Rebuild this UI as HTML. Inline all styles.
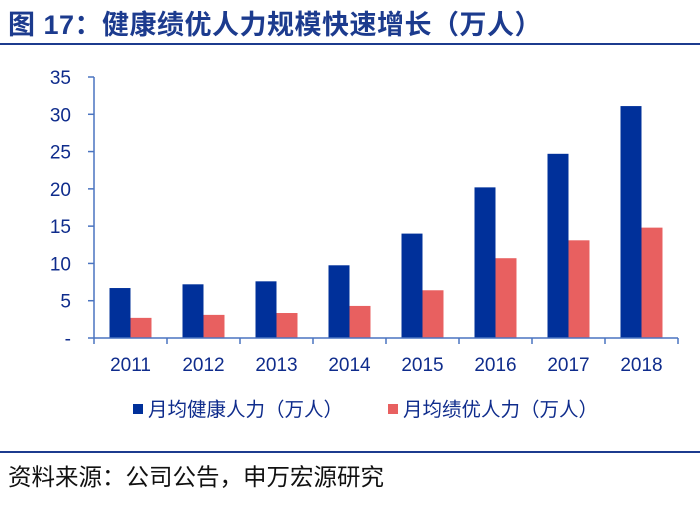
<!DOCTYPE html>
<html><head><meta charset="utf-8"><style>
body{margin:0;width:700px;height:514px;background:#fff;font-family:"Liberation Sans","Noto Sans CJK SC",sans-serif;overflow:hidden;position:relative}
.t{position:absolute;left:8px;top:10px;font-size:27px;line-height:31px;font-weight:bold;color:#1c3b8e;letter-spacing:0.5px;white-space:nowrap}
.l1{position:absolute;left:0;top:43px;width:700px;height:2px;background:#1c3b8e}
.l2{position:absolute;left:0;top:451px;width:700px;height:2px;background:#1c3b8e}
.src{position:absolute;left:8px;top:463px;font-size:23.5px;line-height:28px;color:#111;white-space:nowrap}
</style></head><body>
<div class="t">图 17：健康绩优人力规模快速增长（万人）</div>
<div class="l1"></div>
<svg id="c" width="700" height="440" style="position:absolute;left:0;top:0"></svg>
<div class="l2"></div>
<div class="src">资料来源：公司公告，申万宏源研究</div>
<script>
const categories=["2011","2012","2013","2014","2015","2016","2017","2018"];
const healthValues=[6.7,7.2,7.6,9.75,14.0,20.2,24.7,31.1];
const eliteValues=[2.7,3.1,3.35,4.3,6.4,10.7,13.1,14.8];
const yTicks=[0,5,10,15,20,25,30,35];
const yTickLabels=["-","5","10","15","20","25","30","35"];
const svg=document.getElementById('c');const NS='http://www.w3.org/2000/svg';
const x0=94,y0=338,yTop=77,cw=73,yMax=35;
const y=v=>y0-(v/yMax)*(y0-yTop);
const cx=i=>x0+cw*i+cw/2;
function mk(t,a){const e=document.createElementNS(NS,t);for(const k in a)e.setAttribute(k,a[k]);svg.appendChild(e);return e;}
const ax='#4a74c0',tc='#0f2c8c';
yTicks.forEach((v,i)=>{
 const tk=mk('line',{x1:88,x2:x0,y1:y(v),y2:y(v),stroke:ax,'stroke-width':1.5});
 
 
 const t=mk('text',{x:71,y:y(v)+7,'text-anchor':'end','font-size':19,fill:tc});
 
 
 t.textContent=yTickLabels[i];
});
categories.forEach((c,i)=>{
 const b=mk('rect',{x:cx(i)-21,y:y(healthValues[i]),width:21,height:y0-y(healthValues[i]),fill:'#00309a'});
 
 
 const r=mk('rect',{x:cx(i),y:y(eliteValues[i]),width:21,height:y0-y(eliteValues[i]),fill:'#e86060'});
 
 
 const t=mk('text',{x:cx(i),y:371,'text-anchor':'middle','font-size':19,fill:tc});
 
 
 t.textContent=c;
});
for(let i=0;i<=categories.length;i++){
 const tk=mk('line',{x1:x0+cw*i,x2:x0+cw*i,y1:y0,y2:y0+6,stroke:ax,'stroke-width':1.5});
 
 
}
const ya=mk('line',{x1:x0,x2:x0,y1:yTop,y2:y0,stroke:ax,'stroke-width':1.5});


const xa=mk('line',{x1:x0,x2:x0+cw*categories.length,y1:y0,y2:y0,stroke:ax,'stroke-width':1.5});


const legend=[["#00309a","月均健康人力（万人）",133],["#e86060","月均绩优人力（万人）",388]];
legend.forEach(l=>{
 const s=mk('rect',{x:l[2],y:404,width:10,height:10,fill:l[0]});
 
 
 const t=mk('text',{x:l[2]+15,y:416,'font-size':19.5,fill:tc});
 
 
 t.textContent=l[1];
});
</script>
</body></html>
